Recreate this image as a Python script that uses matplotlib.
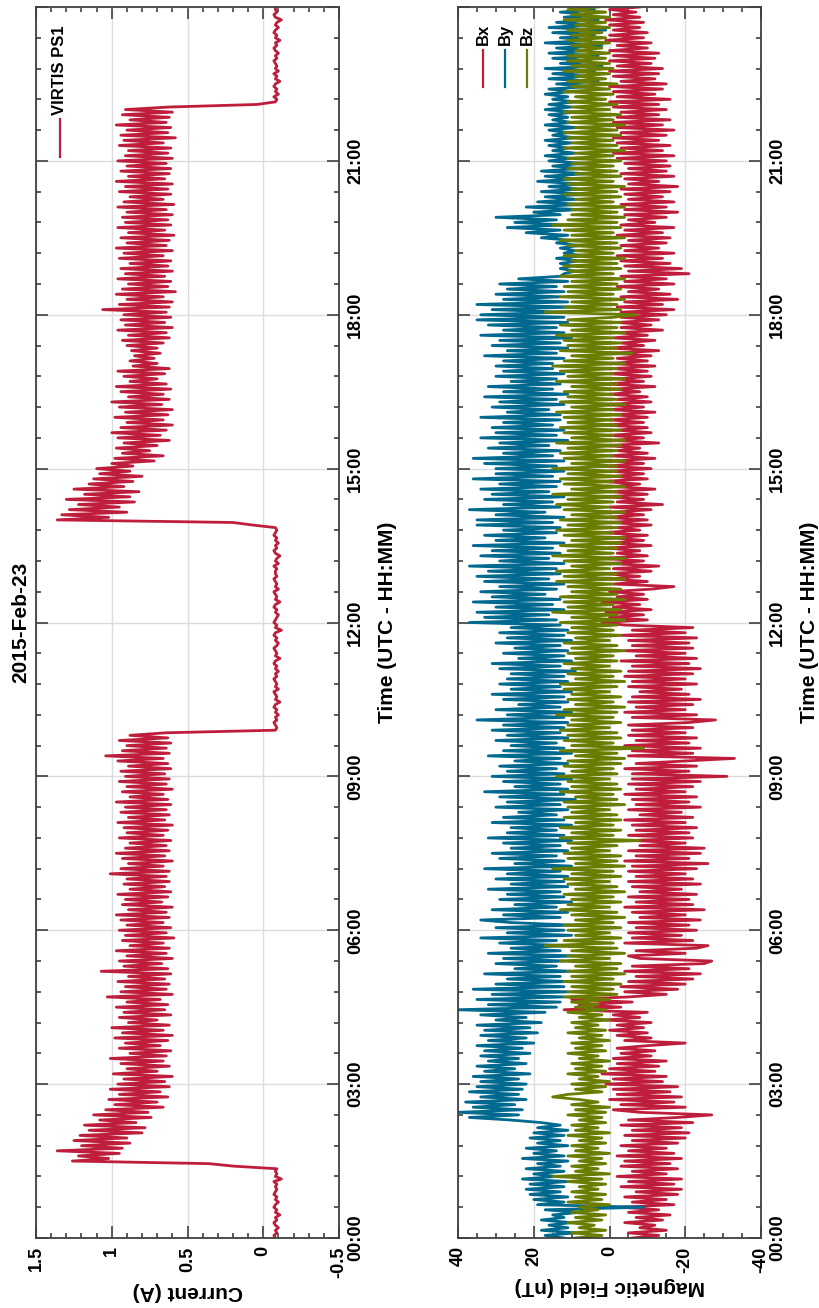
import numpy as np
import matplotlib
matplotlib.use("Agg")
import matplotlib.pyplot as plt
from matplotlib.ticker import MultipleLocator, FuncFormatter

plt.rcParams['font.family'] = ['Liberation Sans', 'DejaVu Sans']
plt.rcParams['font.weight'] = 'bold'

# samples every 0.05 h from 00:00 (one row = one hour)
STEP = 0.05

current = [
    -0.08, -0.07, -0.09, -0.08, -0.10, -0.08, -0.07, -0.09, -0.08, -0.11, -0.08, -0.09, -0.07, -0.08, -0.10, -0.08, -0.09, -0.07, -0.08, -0.09,
    -0.08, -0.09, -0.07, -0.12, -0.08, -0.09, -0.08, -0.09, 0.19, 0.36, 1.26, 1.02, 1.22, 0.95, 1.36, 0.93, 1.20, 0.88, 1.25, 0.90,
    1.21, 0.80, 1.15, 0.78, 1.18, 0.84, 1.08, 0.74, 1.12, 0.76, 1.04, 0.66, 0.98, 0.70, 1.02, 0.63, 0.95, 0.68, 1.01, 0.62,
    0.96, 0.65, 0.92, 0.60, 0.99, 0.70, 0.90, 0.62, 0.94, 0.66, 1.01, 0.64, 0.88, 0.61, 0.95, 0.68, 0.91, 0.63, 0.98, 0.60,
    0.93, 0.66, 1.00, 0.62, 0.89, 0.70, 0.95, 0.61, 0.92, 0.65, 0.97, 0.63, 0.90, 0.68, 1.03, 0.60, 0.94, 0.64, 0.91, 0.62,
    0.96, 0.65, 0.89, 0.61, 1.07, 0.63, 0.92, 0.67, 0.95, 0.60, 0.90, 0.64, 0.97, 0.62, 0.88, 0.66, 0.93, 0.59, 0.91, 0.64,
    0.95, 0.61, 0.90, 0.66, 0.94, 0.62, 0.97, 0.64, 0.89, 0.60, 0.93, 0.67, 0.91, 0.63, 0.96, 0.61, 0.88, 0.65, 0.92, 0.62,
    0.90, 0.64, 1.01, 0.62, 0.94, 0.66, 0.89, 0.60, 0.93, 0.65, 0.97, 0.62, 0.91, 0.64, 0.88, 0.61, 0.95, 0.66, 0.90, 0.63,
    0.92, 0.60, 0.96, 0.65, 0.89, 0.62, 0.94, 0.64, 0.91, 0.61, 0.97, 0.63, 0.88, 0.66, 0.93, 0.60, 0.90, 0.64, 0.95, 0.62,
    0.91, 0.65, 0.94, 0.61, 0.89, 0.63, 0.96, 0.66, 1.04, 0.62, 0.93, 0.64, 0.90, 0.61, 0.95, 0.63, 0.88, 0.64, -0.08, -0.09,
    -0.08, -0.07, -0.09, -0.08, -0.10, -0.08, -0.09, -0.07, -0.08, -0.11, -0.08, -0.09, -0.08, -0.07, -0.10, -0.08, -0.09, -0.08, -0.07, -0.09,
    -0.08, -0.10, -0.08, -0.09, -0.07, -0.08, -0.11, -0.08, -0.09, -0.08, -0.07, -0.09, -0.10, -0.08, -0.09, -0.07, -0.08, -0.12, -0.08, -0.09,
    -0.07, -0.08, -0.09, -0.10, -0.08, -0.09, -0.07, -0.08, -0.11, -0.08, -0.09, -0.08, -0.07, -0.10, -0.08, -0.09, -0.08, -0.07, -0.09, -0.08,
    -0.08, -0.09, -0.07, -0.10, -0.08, -0.09, -0.11, -0.08, -0.07, -0.09, -0.08, -0.10, -0.08, -0.09, -0.07, -0.08, -0.09, -0.08, 0.07, 0.20,
    1.36, 1.02, 1.33, 0.90, 1.28, 0.95, 1.22, 0.85, 1.30, 0.88, 1.18, 0.82, 1.25, 0.92, 1.15, 0.86, 1.12, 0.80, 1.08, 0.88,
    1.10, 0.86, 1.00, 0.72, 0.98, 0.66, 0.93, 0.75, 0.97, 0.70, 0.92, 0.62, 0.96, 0.68, 1.00, 0.64, 0.94, 0.60, 0.90, 0.66,
    0.98, 0.63, 0.91, 0.60, 0.95, 0.67, 1.00, 0.62, 0.89, 0.66, 0.94, 0.61, 0.97, 0.64, 0.88, 0.70, 0.92, 0.65, 0.96, 0.62,
    0.86, 0.70, 0.88, 0.72, 0.85, 0.68, 0.87, 0.70, 0.90, 0.66, 0.93, 0.62, 0.89, 0.64, 0.96, 0.60, 0.91, 0.65, 0.94, 0.61,
    0.92, 0.64, 1.06, 0.62, 0.95, 0.60, 0.90, 0.66, 0.97, 0.58, 0.93, 0.63, 0.89, 0.61, 0.96, 0.65, 0.91, 0.60, 0.94, 0.63,
    0.88, 0.61, 0.95, 0.66, 0.92, 0.60, 0.97, 0.64, 0.90, 0.62, 0.94, 0.59, 0.89, 0.65, 0.96, 0.61, 0.91, 0.63, 0.93, 0.60,
    0.90, 0.64, 0.96, 0.59, 0.92, 0.66, 0.88, 0.61, 0.95, 0.63, 0.91, 0.60, 0.97, 0.65, 0.89, 0.62, 0.94, 0.61, 0.90, 0.64,
    0.96, 0.60, 0.91, 0.63, 0.89, 0.61, 0.95, 0.66, 0.92, 0.58, 0.94, 0.63, 0.90, 0.61, 0.97, 0.64, 0.88, 0.62, 0.93, 0.60,
    0.91, 0.62, 0.04, -0.08, -0.09, -0.07, -0.10, -0.08, -0.09, -0.07, -0.08, -0.11, -0.08, -0.09, -0.07, -0.10, -0.08, -0.09, -0.08, -0.07,
    -0.09, -0.08, -0.10, -0.08, -0.07, -0.09, -0.08, -0.11, -0.08, -0.09, -0.07, -0.08, -0.10, -0.08, -0.09, -0.12, -0.08, -0.07, -0.09, -0.08,
    -0.08,
]

bx = [
    -6, -13, -5, -15, -8, -12, -4, -14, -7, -16, -5, -13, -3, -17, -6, -15, -4, -18, -7, -19,
    -3, -17, -5, -19, -2, -15, -6, -18, -3, -16, -4, -19, -2, -17, -5, -15, -3, -18, -6, -20,
    -4, -21, -6, -19, -3, -22, -5, -18, -27, -8, -1, -20, -3, -17, 0, -19, -2, -16, -1, -18,
    1, -14, -1, -15, 2, -12, 0, -13, -2, -15, -1, -11, -3, -12, -2, -10, -20, -4, -11, -2,
    -10, 0, -9, -2, -11, 1, -8, -1, -10, 12, -3, 8, -6, 10, -5, -15, -4, -18, -3, -20,
    -5, -22, -7, -24, -4, -21, -6, -25, -27, -8, -5, -20, -7, -23, -26, -4, -22, -6, -19, -5,
    -23, -7, -21, -5, -24, -8, -20, -6, -25, -4, -22, -7, -21, -5, -23, -8, -19, -6, -24, -5,
    -22, -7, -20, -5, -23, -6, -26, -4, -21, -7, -24, -5, -25, -8, -20, -6, -22, -5, -21, -7,
    -23, -6, -20, -4, -22, -8, -19, -5, -24, -7, -21, -6, -23, -4, -20, -7, -22, -5, -24, -6,
    -31, -6, -21, -4, -23, -7, -20, -33, -5, -22, -6, -24, -4, -21, -7, -23, -5, -20, -6, -22,
    -5, -21, -28, -6, -23, -4, -20, -7, -22, -5, -24, -6, -21, -8, -19, -5, -23, -6, -20, -4,
    -22, -5, -24, -6, -21, -3, -23, -7, -20, -4, -22, -6, -21, -5, -23, -3, -20, -6, -22, -4,
    2, -10, 0, -9, 1, -11, -1, -8, 2, -10, -2, -9, 0, -11, -17, -1, -10, 0, -8, 1,
    -11, -1, -13, 0, -9, 2, -10, -2, -8, 1, -11, 0, -9, -1, -10, 2, -8, -2, -11, 0,
    -10, 1, -9, -1, -11, 0, -14, -2, -9, 1, -10, 0, -12, -1, -8, 2, -10, -1, -9, 0,
    -11, 1, -9, -1, -12, 0, -10, -2, -8, 1, -13, -1, -9, 0, -11, -2, -10, 1, -9, 0,
    -10, -1, -12, 0, -9, 1, -11, -2, -10, 0, -8, -1, -12, 1, -9, -2, -11, 0, -10, -1,
    -12, 0, -10, -2, -11, -1, -13, 0, -9, -3, -12, -1, -10, -2, -14, -3, -11, -2, -13, -3,
    -15, -3, -17, -2, -14, -4, -18, -3, -16, -5, -13, -2, -17, -4, -15, -3, -21, -5, -19, -4,
    -16, -3, -14, -2, -17, -4, -13, -3, -15, -5, -16, -2, -14, -4, -17, -3, -12, -5, -15, -4,
    -18, -4, -15, -3, -17, -5, -14, -4, -16, -3, -18, -5, -13, -4, -17, -3, -15, -5, -16, -4,
    -15, -2, -17, -1, -14, -3, -16, -2, -13, -1, -15, -3, -17, -2, -14, -1, -16, -2, -13, -3,
    -15, -1, -13, 0, -16, -2, -12, -1, -14, 0, -15, -3, -12, -1, -13, 0, -14, -2, -11, 0,
    -12, -1, -13, 0, -10, -2, -11, 1, -9, 0, -10, -1, -8, 0, -9, 1, -8, -1, -7, 0,
    -8,
]

by = [
    12, 17, 9, 18, 11, 16, 10, 18, 12, 15, 8, 17, -9, 19, 12, 20, 11, 21, 13, 22,
    12, 21, 11, 23, 14, 20, 12, 22, 13, 19, 11, 23, 12, 20, 14, 22, 11, 19, 13, 21,
    12, 20, 11, 19, 13, 18, 26, 37, 24, 40, 23, 36, 25, 38, 22, 34, 24, 37, 23, 35,
    22, 34, 24, 36, 21, 33, 25, 35, 22, 32, 24, 34, 21, 33, 23, 35, 20, 32, 22, 34,
    19, 33, 21, 35, 18, 30, 22, 34, 17, 40, 14, 32, 13, 35, 12, 31, 11, 36, 12, 30,
    11, 27, 13, 33, 10, 25, 14, 30, 12, 28, 9, 32, 13, 26, 11, 29, 14, 34, 10, 27,
    12, 30, 10, 26, 34, 13, 28, 11, 31, 14, 25, 10, 29, 12, 27, 13, 32, 11, 26, 12,
    30, 11, 27, 13, 33, 10, 25, 12, 29, 14, 31, 11, 26, 13, 28, 10, 32, 12, 27, 14,
    26, 10, 31, 12, 28, 14, 24, 11, 30, 13, 27, 9, 29, 12, 33, 11, 25, 13, 28, 10,
    31, 12, 27, 14, 29, 11, 25, 13, 32, 10, 28, 12, 26, 14, 30, 11, 27, 13, 31, 12,
    28, 11, 35, 12, 27, 10, 30, 13, 24, 11, 28, 12, 31, 10, 26, 13, 29, 11, 27, 12,
    26, 9, 29, 13, 31, 10, 24, 12, 28, 11, 25, 13, 30, 10, 27, 12, 29, 11, 26, 13,
    37, 14, 33, 16, 35, 12, 30, 15, 36, 13, 31, 17, 34, 14, 29, 12, 33, 16, 35, 13,
    32, 14, 37, 12, 29, 16, 34, 13, 31, 15, 36, 12, 30, 17, 33, 14, 28, 13, 35, 15,
    35, 12, 30, 17, 37, 13, 28, 15, 33, 12, 31, 16, 34, 14, 29, 13, 36, 15, 30, 12,
    30, 14, 33, 12, 36, 15, 28, 13, 32, 16, 29, 11, 34, 14, 30, 12, 31, 15, 28, 13,
    34, 13, 27, 16, 31, 12, 29, 14, 33, 11, 28, 15, 32, 13, 26, 14, 30, 12, 28, 15,
    30, 15, 28, 12, 33, 14, 27, 11, 31, 13, 29, 10, 34, 12, 28, 14, 32, 11, 35, 12,
    34, 12, 31, 10, 35, 11, 28, 13, 30, 12, 27, 14, 29, 11, 24, 13, 12, 9, 13, 10,
    13, 8, 14, 7, 12, 9, 13, 8, 14, 10, 18, 11, 22, 13, 27, 12, 25, 14, 30, 13,
    20, 8, 22, 7, 19, 9, 17, 6, 18, 8, 16, 7, 19, 9, 17, 6, 18, 8, 15, 7,
    16, 10, 17, 9, 15, 11, 16, 10, 17, 9, 15, 11, 16, 9, 17, 10, 15, 11, 16, 9,
    17, 10, 16, 9, 15, 11, 17, 10, 16, 5, 14, 3, 16, 6, 15, 4, 17, 2, 13, 5,
    15, 3, 16, 6, 14, 2, 17, 5, 13, 4, 15, 1, 16, 6, 14, 3, 12, 5, 13, 4,
    8,
]

bz = [
    9, 2, 10, 1, 8, 4, 11, 2, 9, 1, 10, 3, 8, 0, 11, 2, 9, 1, 10, 3,
    8, 1, 11, 2, 15, 0, 9, 3, 10, 1, 8, 2, 11, 0, 9, 3, 10, 1, 8, 2,
    11, 0, 9, 3, 10, 1, 8, 2, 11, 1, 9, 0, 10, 3, 8, 15, 11, 2, 9, 1,
    10, 0, 8, 3, 11, 1, 9, 2, 10, 0, 8, 3, 11, 1, 9, 2, 10, 0, 8, 2,
    11, 1, 9, 3, 10, 0, 8, 2, 11, 1, 9, 3, 10, 0, 12, -2, 11, -1, 10, -3,
    12, -1, 10, -4, 11, -2, 9, -3, 13, 0, 11, -4, 10, -2, 17, -1, 12, -3, 9, 0,
    11, -3, 12, -1, 9, -4, 10, -2, 13, 0, 11, -3, 10, -1, 12, -4, 9, -2, 11, 0,
    12, -3, 10, -1, 15, -4, 9, -2, 11, -3, 12, 0, 10, -2, 11, -8, 13, -1, 10, -3,
    13, -1, 9, -3, 12, -2, 10, 0, 11, -4, 12, -2, 9, -1, 13, -3, 10, -2, 11, 0,
    14, -2, 10, -1, 12, -3, 11, -4, 9, -2, 13, -9, 10, -1, 12, -3, 11, -2, 13, 0,
    11, -3, 10, -1, 14, -2, 12, -4, 9, -1, 11, -3, 10, 0, 12, -2, 13, -4, 9, -1,
    11, -3, 10, 0, 12, -2, 9, -1, 11, -4, 10, -2, 12, 0, 9, -3, 11, -1, 10, -2,
    13, -4, 10, -2, 15, -3, 11, -1, 12, -4, 13, -2, 10, -3, 11, -1, 14, -4, 12, -2,
    14, 0, 10, -3, 12, -4, 15, -1, 11, -2, 13, -3, 10, -4, 12, -1, 14, -2, 11, -3,
    13, -2, 10, -4, 12, 0, 14, -1, 11, -3, 15, -2, 10, -4, 12, -1, 13, -3, 11, -2,
    15, -2, 10, -4, 12, -1, 13, -2, 11, -3, 14, -4, 10, -1, 12, -3, 13, -2, 11, -1,
    12, -3, 14, -1, 10, -4, 13, -2, 11, -1, 12, -3, 10, -2, 14, -4, 11, -1, 13, -2,
    15, -4, 12, -1, 10, -6, 13, -2, 11, -3, 12, -1, 14, -4, 10, -2, 13, -3, 11, -1,
    -7, 17, -3, 12, -2, 10, -4, 13, -1, 11, -3, 12, -2, 10, -4, 13, -1, 11, -3, 12,
    -2, 10, -4, 12, -1, 9, -3, 11, -2, 13, -4, 10, -1, 12, -3, 15, -2, 11, -4, 10,
    -2, 10, -4, 11, -1, 9, -3, 12, -2, 10, -4, 11, -1, 12, -3, 9, -2, 11, -1, 10,
    -3, 11, -1, 9, -4, 12, -2, 10, -1, 11, -3, 12, -2, 9, -4, 11, -1, 10, -3, 12,
    0, 10, -2, 11, 1, 9, -1, 12, 0, 10, -2, 11, 1, 9, 0, 12, -1, 10, 0, 11,
    1, 11, 0, 9, 2, 10, 0, 11, 1, 10, 2, 11, 0, 9, 1, 12, 0, 10, 1, 11,
    3,
]

RED = '#BE1E3C'
BLUE = '#00698F'
OLIVE = '#6B7D00'
AXC = '#404040'
LW = 2.0

W, H = 819, 1308
fig = plt.figure(figsize=(W / 100, H / 100), dpi=100)


def px_axes(x0, x1, y0, y1):
    # rectangle in image pixels (y from top)
    return fig.add_axes([x0 / W, (H - y1) / H, (x1 - x0) / W, (y1 - y0) / H])


def times(vals):
    return np.arange(len(vals)) * STEP


def style(ax, xlim, xmaj, xmin):
    ax.set_ylim(0, 24)
    ax.set_xlim(*xlim)
    ax.yaxis.set_major_locator(MultipleLocator(3))
    ax.yaxis.set_minor_locator(MultipleLocator(0.6))
    ax.xaxis.set_major_locator(MultipleLocator(xmaj))
    ax.xaxis.set_minor_locator(MultipleLocator(xmin))
    ax.yaxis.set_major_formatter(FuncFormatter(
        lambda v, p: '%02d:00' % int(round(v)) if v < 23.5 else ''))
    ax.xaxis.set_major_formatter(FuncFormatter(lambda v, p: '%g' % v))
    ax.tick_params(which='both', direction='in', top=True, bottom=True,
                   left=True, right=True, labelleft=False, labelright=True,
                   colors=AXC, labelcolor='black', width=1.2)
    ax.tick_params(which='major', length=8.6, labelsize=13, pad=6)
    ax.tick_params(which='minor', length=3.6)
    ax.tick_params(axis='x', labelrotation=90)
    ax.tick_params(axis='y', labelrotation=90)
    for lab in ax.get_yticklabels():
        lab.set_va('center')
    for s in ax.spines.values():
        s.set_color(AXC)
        s.set_linewidth(1.3)
    ax.grid(True, which='major', color='#dcdcdc', linewidth=1.0)
    ax.set_axisbelow(True)
    ax.yaxis.set_label_position('right')
    ax.set_ylabel('Time (UTC - HH:MM)', rotation=90, fontsize=15,
                  fontweight='bold', labelpad=10)


ax1 = px_axes(36, 339, 7, 1238)
ax1.plot(current, times(current), color=RED, lw=LW)
style(ax1, (1.5, -0.5), 0.5, 0.1)
ax1.set_xlabel('Current (A)', rotation=180, fontsize=15, fontweight='bold',
               labelpad=3)
ax1.text(-0.051, 0.5, '2015-Feb-23', rotation=90, transform=ax1.transAxes,
         ha='center', va='center', fontsize=15, fontweight='bold')

# legend drawn by hand so the text can be turned with the chart
ax1.plot([0.079, 0.079], [0.878, 0.909], color=RED, lw=1.6,
         transform=ax1.transAxes, clip_on=False)
ax1.text(0.079, 0.912, 'VIRTIS PS1', rotation=90, transform=ax1.transAxes,
         ha='center', va='bottom', fontsize=12, fontweight='bold')

ax2 = px_axes(458, 761, 7, 1238)
ax2.plot(bx, times(bx), color=RED, lw=LW)
ax2.plot(by, times(by), color=BLUE, lw=LW)
ax2.plot(bz, times(bz), color=OLIVE, lw=LW)
style(ax2, (40, -40), 20, 5)
ax2.set_xlabel('Magnetic Field (nT)', rotation=180, fontsize=15,
               fontweight='bold', labelpad=3)

for i, (name, col) in enumerate([('Bx', RED), ('By', BLUE), ('Bz', OLIVE)]):
    xx = 0.0825 + i * 0.0726
    ax2.plot([xx, xx], [0.935, 0.965], color=col, lw=1.6,
             transform=ax2.transAxes, clip_on=False)
    ax2.text(xx, 0.969, name, rotation=90, transform=ax2.transAxes,
             ha='center', va='bottom', fontsize=12, fontweight='bold')

fig.savefig('out.png', dpi=100)
